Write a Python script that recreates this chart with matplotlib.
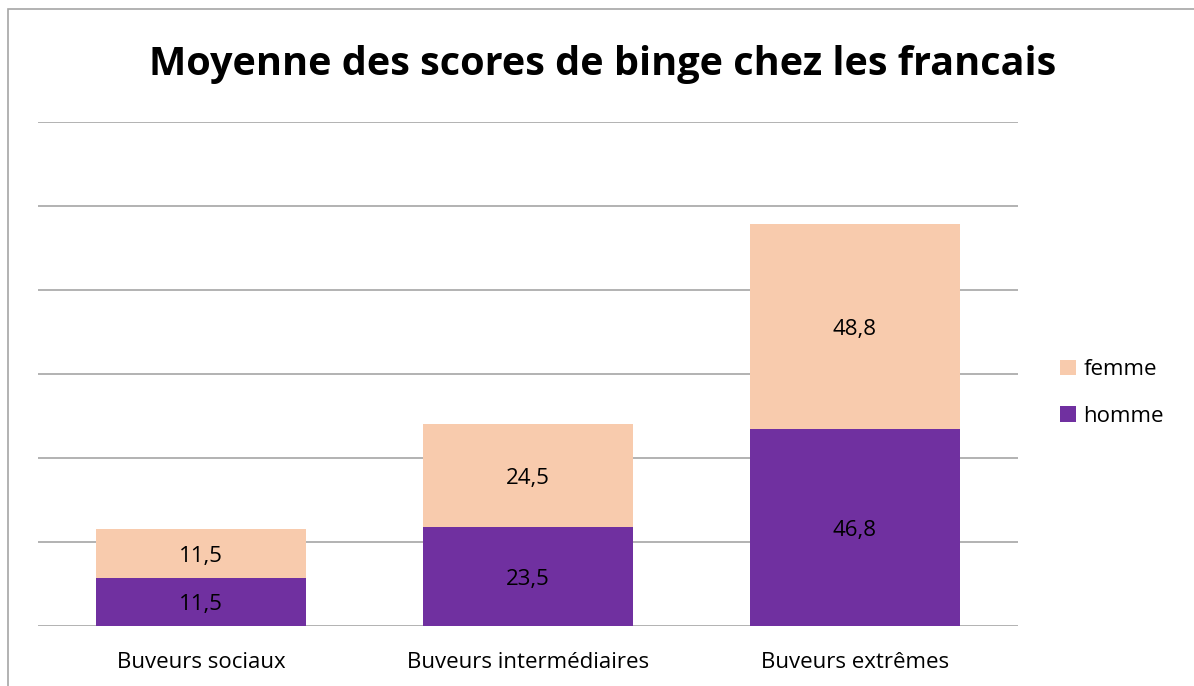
import matplotlib
matplotlib.use("Agg")
import matplotlib.pyplot as plt
from matplotlib.patches import Rectangle
import numpy as np

categories = ["Buveurs sociaux", "Buveurs intermédiaires", "Buveurs extrêmes"]
homme = [11.5, 23.5, 46.8]
femme = [11.5, 24.5, 48.8]
labels_homme = ["11,5", "23,5", "46,8"]
labels_femme = ["11,5", "24,5", "48,8"]

C_HOMME = "#7030A0"
C_FEMME = "#F8CBAD"
FS = 16

plt.rcParams["font.family"] = ["Open Sans", "DejaVu Sans"]

fig = plt.figure(figsize=(11.94, 6.86), dpi=100)
fig.patches.append(Rectangle((8 / 1194, -0.1), 1.2, 1 - 9 / 686 + 0.1,
                             transform=fig.transFigure, fill=False,
                             edgecolor="#A6A6A6", linewidth=1.2))

ax = fig.add_axes([38 / 1194, 1 - 626 / 686, 980 / 1194, 504 / 686])
x = np.arange(len(categories))
w = 0.643
b1 = ax.bar(x, homme, w, color=C_HOMME, label="homme", zorder=3)
b2 = ax.bar(x, femme, w, bottom=homme, color=C_FEMME, label="femme", zorder=3)

# data labels, centred in each segment
for i in range(len(categories)):
    ax.text(x[i], homme[i] / 2, labels_homme[i], ha="center",
            va="center_baseline", fontsize=FS, color="black", zorder=4)
    ax.text(x[i], homme[i] + femme[i] / 2, labels_femme[i], ha="center",
            va="center_baseline", fontsize=FS, color="black", zorder=4)

ax.set_xlim(-0.5, len(categories) - 0.5)
ax.set_ylim(0, 120)
ax.set_yticks(np.arange(0, 121, 20))
ax.yaxis.grid(True, color="#A6A6A6", linewidth=1.2, zorder=0)
ax.set_yticklabels([])
ax.tick_params(axis="y", length=0)
ax.tick_params(axis="x", length=0, pad=19, labelsize=FS)
ax.set_xticks(x)
ax.set_xticklabels(categories)
for s in ax.spines.values():
    s.set_visible(False)

fig.text(603 / 1194, 1 - 64 / 686, "Moyenne des scores de binge chez les francais",
         ha="center", va="center", fontsize=28.5, fontweight="bold")

fig.legend(handles=[b2, b1], labels=["femme", "homme"], loc="center left",
           bbox_to_anchor=(1040 / 1194, 1 - 393 / 686), frameon=False,
           fontsize=FS, handlelength=0.7, handleheight=0.7, handletextpad=0.35,
           labelspacing=1.15)

fig.savefig("out.png", dpi=100, facecolor="white")
